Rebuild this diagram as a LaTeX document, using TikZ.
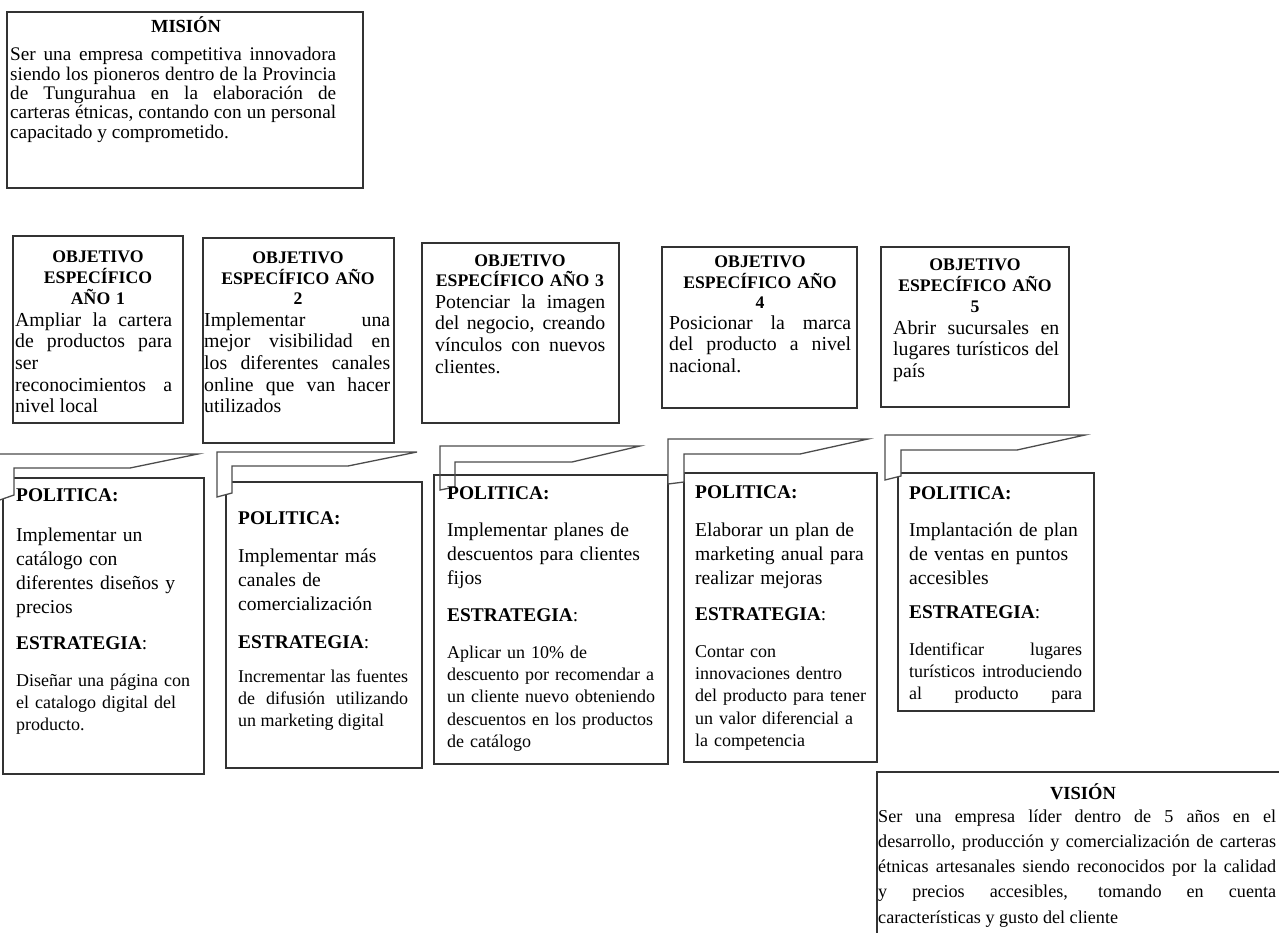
\documentclass[tikz,border=0pt]{standalone}
\usepackage{fontspec}
\setmainfont{Liberation Serif}
\tolerance=10000
\hbadness=10000

\begin{document}
\begin{tikzpicture}[x=1pt,y=-1pt]
	\tikzstyle{Caja} = [draw=black!80,line width=1.1pt,fill=white]
	\tikzstyle{Bandera} = [draw=black!70,line width=1.3pt]
	\tikzstyle{Titulo} = [inner sep=0pt,anchor=base,align=center,text width=120pt,font={\bfseries\fontsize{18.5}{19}\selectfont}]
	\tikzstyle{TituloObj} = [inner sep=0pt,anchor=base,align=center,text width=180pt,font={\bfseries\fontsize{17.7}{20.5}\selectfont}]
	\tikzstyle{TextoObj} = [inner sep=0pt,anchor=base west,align=justify,font={\fontsize{19.8}{21.7}\selectfont}]
	\tikzstyle{Encabezado} = [inner sep=0pt,anchor=base west,text width=200pt,align=left,font={\bfseries\fontsize{19.4}{20}\selectfont}]
	\tikzstyle{Politica} = [inner sep=0pt,anchor=base west,text width=215pt,align=left,font={\fontsize{19.6}{24}\selectfont}]
	\tikzstyle{Estrategia} = [inner sep=0pt,anchor=base west,text width=215pt,align=left,font={\fontsize{18}{22.4}\selectfont}]
	\useasboundingbox (0,0) rectangle (1279,933);
	\fill[white] (0,0) rectangle (1279,933);
	\clip (0,0) rectangle (1279,933);

	\draw[Caja] (7,12) rectangle (363,188);
	\node[Titulo] (titMision) at (186,33) {MISIÓN};
	\node[TextoObj,text width=326pt,font={\fontsize{19.25}{19.3}\selectfont}] (txtMision) at (10,61)
	{Ser una empresa competitiva innovadora \linebreak siendo los pioneros dentro de la Provincia \linebreak de Tungurahua en la elaboración de \linebreak carteras étnicas, contando con un personal \linebreak capacitado y comprometido.};

	% objetivos especificos
	\draw[Caja] (13,236) rectangle (183,423);
	\draw[Caja] (203,238) rectangle (394,443);
	\draw[Caja] (422,243) rectangle (619,423);
	\draw[Caja] (662,247) rectangle (857,408);
	\draw[Caja] (881,247) rectangle (1069,407);
	\node[TituloObj] (titObj1) at (98,263) {OBJETIVO\\ ESPECÍFICO\\ AÑO 1};
	\node[TituloObj] (titObj2) at (298,264) {OBJETIVO\\ ESPECÍFICO AÑO\\ 2};
	\node[TituloObj] (titObj3) at (520,266) {OBJETIVO\\ ESPECÍFICO AÑO 3};
	\node[TituloObj] (titObj4) at (760,268) {OBJETIVO\\ ESPECÍFICO AÑO\\ 4};
	\node[TituloObj] (titObj5) at (975,271) {OBJETIVO\\ ESPECÍFICO AÑO\\ 5};
	\node[TextoObj,text width=157pt] (txtObj1) at (15,326)
	{Ampliar la cartera \linebreak de productos para \linebreak ser \linebreak reconocimientos a \linebreak nivel local};
	\node[TextoObj,text width=186pt] (txtObj2) at (204,326)
	{Implementar una \linebreak mejor visibilidad en \linebreak los diferentes canales \linebreak online que van hacer \linebreak utilizados};
	\node[TextoObj,text width=170pt] (txtObj3) at (435,308)
	{Potenciar la imagen \linebreak del negocio, creando \linebreak vínculos con nuevos \linebreak clientes.};
	\node[TextoObj,text width=182pt] (txtObj4) at (669,329)
	{Posicionar la marca \linebreak del producto a nivel \linebreak nacional.};
	\node[TextoObj,text width=166pt] (txtObj5) at (893,334)
	{Abrir sucursales en \linebreak lugares turísticos del \linebreak país};

	% politicas y estrategias
	\draw[Caja] (3,478) rectangle (204,774);
	\draw[Caja] (226,482) rectangle (422,768);
	\draw[Caja] (434,475) rectangle (668,764);
	\draw[Caja] (684,473) rectangle (877,762);
	\draw[Caja] (898,473) rectangle (1094,711);
	\filldraw[Bandera,fill=white] (-6,454)--(198,454)--(130,468)--(14,468)--(14,495)--(-6,502)--cycle;
	\filldraw[Bandera,fill=white] (217,452)--(417,452)--(348,466)--(232,466)--(232,493)--(217,497)--cycle;
	\draw[Bandera] (440,446)--(640,446)--(572,462)--(455,462)--(455,487)--(440,490)--cycle;
	\filldraw[Bandera,fill=white] (668,439)--(868,439)--(800,454)--(684,454)--(684,482)--(668,484)--cycle;
	\filldraw[Bandera,fill=white] (885,435)--(1085,435)--(1017,450)--(901,450)--(901,476)--(885,480)--cycle;

	\node[Encabezado] (pol1) at (16,501) {POLITICA:};
	\node[Politica] (txtPol1) at (16,541) {Implementar un\\ catálogo con\\ diferentes diseños y\\ precios};
	\node[Encabezado] (est1) at (16,649) {ESTRATEGIA\textmd{:}};
	\node[Estrategia] (txtEst1) at (16,686) {Diseñar una página con\\ el catalogo digital del\\ producto.};

	\node[Encabezado] (pol2) at (238,524) {POLITICA:};
	\node[Politica] (txtPol2) at (238,562) {Implementar más\\ canales de\\ comercialización};
	\node[Encabezado] (est2) at (238,648) {ESTRATEGIA\textmd{:}};
	\node[Estrategia,text width=170pt,align=justify] (txtEst2) at (238,682)
	{Incrementar las fuentes \linebreak de difusión utilizando \linebreak un marketing digital};

	\node[Encabezado] (pol3) at (447,499) {POLITICA:};
	\node[Politica] (txtPol3) at (447,536) {Implementar planes de\\ descuentos para clientes\\ fijos};
	\node[Encabezado] (est3) at (447,621) {ESTRATEGIA\textmd{:}};
	\node[Estrategia] (txtEst3) at (447,658) {Aplicar un 10\% de\\ descuento por recomendar a\\ un cliente nuevo obteniendo\\ descuentos en los productos\\ de catálogo};

	\node[Encabezado] (pol4) at (695,498) {POLITICA:};
	\node[Politica] (txtPol4) at (695,536) {Elaborar un plan de\\ marketing anual para\\ realizar mejoras};
	\node[Encabezado] (est4) at (695,620) {ESTRATEGIA\textmd{:}};
	\node[Estrategia] (txtEst4) at (695,657) {Contar con\\ innovaciones dentro\\ del producto para tener\\ un valor diferencial a\\ la competencia};

	\node[Encabezado] (pol5) at (909,499) {POLITICA:};
	\node[Politica] (txtPol5) at (909,536) {Implantación de plan\\ de ventas en puntos\\ accesibles};
	\node[Encabezado] (est5) at (909,618) {ESTRATEGIA\textmd{:}};
	\begin{scope}
		\clip (898,473) rectangle (1094,702);
		\node[Estrategia,text width=173pt,align=justify] (txtEst5) at (909,655)
		{Identificar lugares \linebreak turísticos introduciendo \linebreak al producto para \linebreak};
	\end{scope}

	% vision
	\draw[Caja] (877,772) rectangle (1290,945);
	\node[Titulo] (titVision) at (1083,799) {VISIÓN};
	\node[TextoObj,text width=398pt,font={\fontsize{18.15}{25.3}\selectfont}] (txtVision) at (878,822)
	{Ser una empresa líder dentro de 5 años en el \linebreak desarrollo, producción y comercialización de carteras \linebreak étnicas artesanales siendo reconocidos por la calidad \linebreak y precios accesibles, tomando en cuenta \linebreak características y gusto del cliente};
\end{tikzpicture}
\end{document}
